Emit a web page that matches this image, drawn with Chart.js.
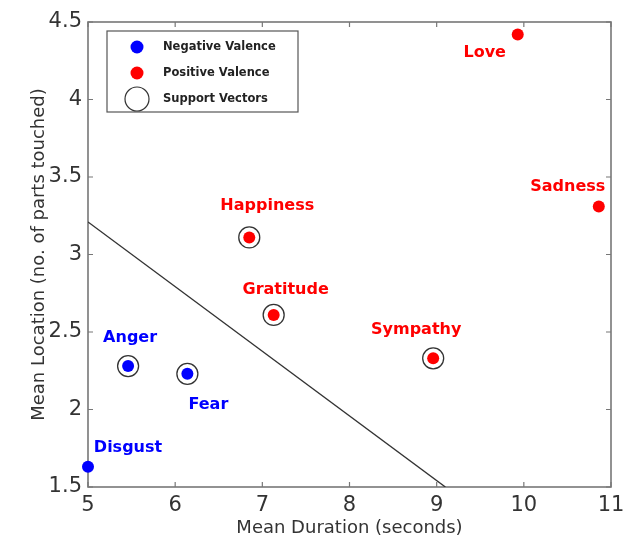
<!DOCTYPE html>
<html><head><meta charset="utf-8">
<script src="https://cdn.jsdelivr.net/npm/chart.js@4"></script>
<style>html,body{margin:0;padding:0;background:#fff}canvas{display:block}</style>
</head><body>
<canvas id="c" width="635" height="545"></canvas>
<script>
// ---- data ----
const negNames = ["Anger", "Fear", "Disgust"];
const negX = [5.46, 6.14, 5.0];
const negY = [2.28, 2.23, 1.63];
const posNames = ["Happiness", "Gratitude", "Sympathy", "Love", "Sadness"];
const posX = [6.85, 7.13, 8.96, 9.93, 10.86];
const posY = [3.11, 2.61, 2.33, 4.42, 3.31];
const svNames = ["Anger", "Fear", "Happiness", "Gratitude", "Sympathy"];
const boundaryX = [5.0, 9.1];
const boundaryY = [3.21, 1.5];
const xTicks = [5, 6, 7, 8, 9, 10, 11];
const yTicks = [1.5, 2, 2.5, 3, 3.5, 4, 4.5];
const legendLabels = ["Negative Valence", "Positive Valence", "Support Vectors"];

// label offsets (pixels, style only)
const labelOffset = {
  Anger: [2, -28], Fear: [21, 31], Disgust: [40, -19],
  Happiness: [18, -32], Gratitude: [12, -25], Sympathy: [-17, -29],
  Love: [-33, 18], Sadness: [-31, -20]
};

const BLUE = "#0000ff", RED = "#ff0000";
const allPts = {};
negNames.forEach((n, i) => allPts[n] = {x: negX[i], y: negY[i], c: BLUE});
posNames.forEach((n, i) => allPts[n] = {x: posX[i], y: posY[i], c: RED});

const negData = negNames.map((n, i) => ({x: negX[i], y: negY[i]}));
const posData = posNames.map((n, i) => ({x: posX[i], y: posY[i]}));
const svData = svNames.map(n => ({x: allPts[n].x, y: allPts[n].y}));
const lineData = boundaryX.map((x, i) => ({x, y: boundaryY[i]}));

const decor = {
  id: "decor",
  beforeDatasetsDraw(chart) {
    const {ctx, chartArea: a} = chart;
    ctx.save();
    ctx.strokeStyle = "#777"; ctx.lineWidth = 1.6;
    ctx.strokeRect(a.left, a.top, a.right - a.left, a.bottom - a.top);
    ctx.restore();
  },
  afterDatasetsDraw(chart) {
    const {ctx, chartArea: a, scales: {x, y}} = chart;
    ctx.save();
    // inner ticks
    ctx.lineWidth = 1.2; ctx.strokeStyle = "#777";
    ctx.beginPath();
    xTicks.forEach(v => {
      const px = x.getPixelForValue(v);
      ctx.moveTo(px, a.bottom); ctx.lineTo(px, a.bottom - 5);
      ctx.moveTo(px, a.top); ctx.lineTo(px, a.top + 5);
    });
    yTicks.forEach(v => {
      const py = y.getPixelForValue(v);
      ctx.moveTo(a.left, py); ctx.lineTo(a.left + 5, py);
      ctx.moveTo(a.right, py); ctx.lineTo(a.right - 5, py);
    });
    ctx.stroke();
    // point labels
    ctx.font = "bold 16px 'DejaVu Sans'";
    ctx.textAlign = "center"; ctx.textBaseline = "middle";
    Object.keys(allPts).forEach(n => {
      const p = allPts[n], o = labelOffset[n];
      ctx.fillStyle = p.c;
      ctx.fillText(n, x.getPixelForValue(p.x) + o[0], y.getPixelForValue(p.y) + o[1]);
    });
    // legend
    const lx = 107, ly = 31, lw = 191, lh = 81;
    ctx.fillStyle = "#fff"; ctx.fillRect(lx, ly, lw, lh);
    ctx.strokeStyle = "#555"; ctx.lineWidth = 1.2; ctx.strokeRect(lx, ly, lw, lh);
    const rows = [ly + 16, ly + 42, ly + 68];
    ctx.fillStyle = BLUE; ctx.beginPath(); ctx.arc(lx + 30, rows[0], 6.5, 0, Math.PI * 2); ctx.fill();
    ctx.fillStyle = RED; ctx.beginPath(); ctx.arc(lx + 30, rows[1], 6.5, 0, Math.PI * 2); ctx.fill();
    ctx.strokeStyle = "#333"; ctx.lineWidth = 1.2; ctx.beginPath(); ctx.arc(lx + 30, rows[2], 12, 0, Math.PI * 2); ctx.stroke();
    ctx.fillStyle = "#222"; ctx.font = "bold 11.5px 'DejaVu Sans'"; ctx.textAlign = "left";
    legendLabels.forEach((t, i) => ctx.fillText(t, lx + 56, rows[i]));
    ctx.restore();
  }
};

new Chart(document.getElementById("c"), {
  type: "scatter",
  data: {
    datasets: [
      {data: negData, backgroundColor: BLUE, borderColor: BLUE, pointRadius: 6, borderWidth: 0, clip: false},
      {data: posData, backgroundColor: RED, borderColor: RED, pointRadius: 6, borderWidth: 0, clip: false},
      {data: svData, backgroundColor: "#fff", borderColor: "#333", pointRadius: 10.5, borderWidth: 1.3, clip: false},
      {type: "line", data: lineData, borderColor: "#333", borderWidth: 1.4, pointRadius: 0, fill: false}
    ]
  },
  plugins: [decor],
  options: {
    responsive: false, animation: false,
    layout: {padding: {top: 22, right: 24, left: 25, bottom: 0}},
    plugins: {legend: {display: false}, tooltip: {enabled: false}},
    scales: {
      x: {
        type: "linear", min: 5, max: 11,
        afterBuildTicks: s => { s.ticks = xTicks.map(v => ({value: v})); },
        afterFit: s => { s.height = 58; },
        grid: {display: false, drawTicks: false}, border: {display: false},
        ticks: {color: "#333", font: {family: "DejaVu Sans", size: 21}, padding: 6,
                callback: v => String(v)},
        title: {display: true, text: "Mean Duration (seconds)", color: "#333",
                font: {family: "DejaVu Sans", size: 18}, padding: {top: 0, bottom: 6}}
      },
      y: {
        type: "linear", min: 1.5, max: 4.5,
        afterBuildTicks: s => { s.ticks = yTicks.map(v => ({value: v})); },
        afterFit: s => { s.width = 63; },
        grid: {display: false, drawTicks: false}, border: {display: false},
        ticks: {color: "#333", font: {family: "DejaVu Sans", size: 21}, padding: 6,
                callback: v => String(v)},
        title: {display: true, text: "Mean Location (no. of parts touched)", color: "#333",
                font: {family: "DejaVu Sans", size: 18}, padding: {top: 4, bottom: 0}}
      }
    }
  }
});
</script>
</body></html>
